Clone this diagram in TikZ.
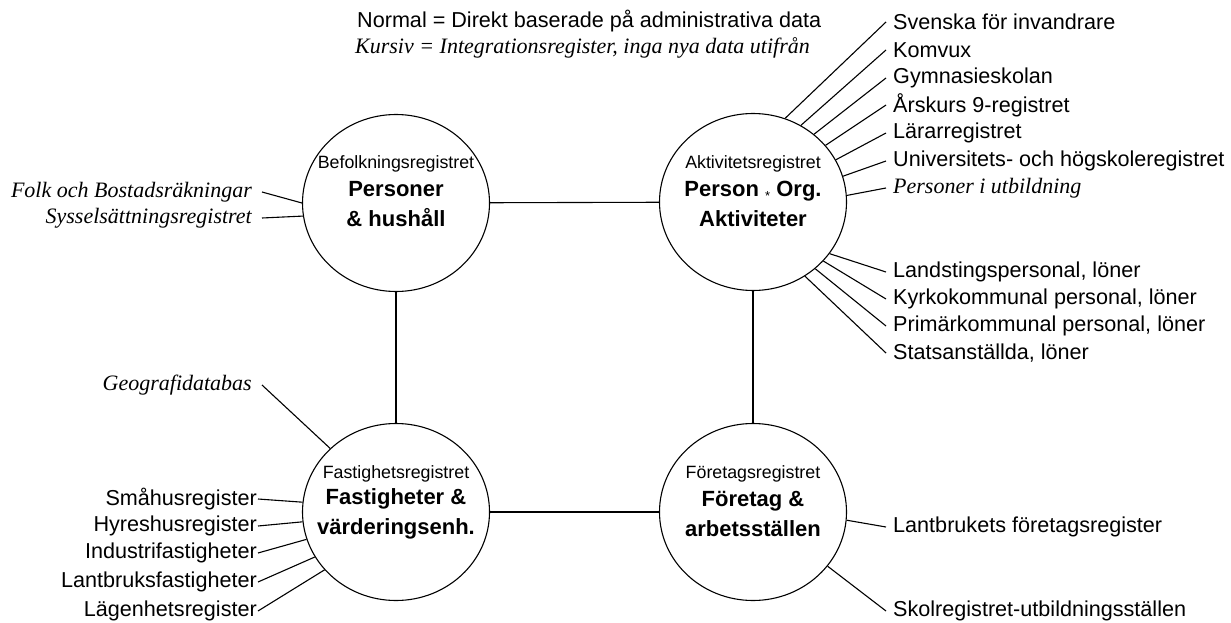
\documentclass[tikz,border=0pt]{standalone}
\usepackage{fontspec}
\setmainfont{Liberation Sans}
\newfontfamily\timesfont{Liberation Serif}
\usetikzlibrary{shapes.geometric,calc}

\tikzset{
  reg/.style={ellipse, draw, line width=1.1pt, minimum width=187pt, minimum height=177pt, inner sep=0pt},
  regname/.style={font=\fontsize{17.8}{20}\selectfont, inner sep=0pt},
  regmain/.style={font=\fontsize{22}{30}\selectfont\bfseries, align=center, inner sep=0pt},
  lab/.style={font=\fontsize{21.6}{24}\selectfont, inner xsep=7pt, inner ysep=0pt},
  labit/.style={font=\fontsize{22}{24}\selectfont\timesfont\itshape, inner xsep=10pt, inner ysep=0pt},
  labl/.style={lab, inner xsep=1pt},
  link/.style={line width=1.1pt},
}

\begin{document}
\begin{tikzpicture}[x=1pt,y=-1pt]
\useasboundingbox (0,0) rectangle (1231,623);

% legend
\node[lab, anchor=west, inner xsep=0pt] (normal) at (357,21) {Normal = Direkt baserade på administrativa data};
\node[labit, anchor=west, inner xsep=0pt] (kursiv) at (355,48) {Kursiv = Integrationsregister, inga nya data utifrån};

% the four base registers
\node[reg] (pers) at (396,203) {};
\node[reg] (akt) at (753,202) {};
\node[reg] (fast) at (396,512) {};
\node[reg] (foret) at (753,512) {};

\node[regname] (persA) at ($(pers)+(0,-39)$) {Befolkningsregistret};
\node[regmain] (persB) at ($(pers)+(0,1.5)$) {Personer\\\& hushåll};

\node[regname] (aktA) at ($(akt)+(0,-38.5)$) {Aktivitetsregistret};
\node[regmain] (aktB) at ($(akt)+(0,2)$) {Person {\fontsize{13}{13}\selectfont\mdseries\raisebox{-4pt}{*}} Org.\\Aktiviteter};

\node[regname] (fastA) at ($(fast)+(0,-38.5)$) {Fastighetsregistret};
\node[regmain] (fastB) at ($(fast)+(0,2)$) {Fastigheter \&\\värderingsenh.};

\node[regname] (foretA) at ($(foret)+(0,-38.5)$) {Företagsregistret};
\node[regmain] (foretB) at ($(foret)+(0,2)$) {Företag \&\\arbetsställen};

% links between the base registers
\draw[link] (pers) -- (akt);
\draw[link] (pers) -- (fast);
\draw[link] (akt) -- (foret);
\draw[link] (fast) -- (foret);

% education and activity registers
\node[lab, anchor=west] (sfi) at (886,22) {Svenska för invandrare};
\node[lab, anchor=west] (komvux) at (886,50) {Komvux};
\node[lab, anchor=west] (gymn) at (886,78) {Gymnasieskolan};
\node[lab, anchor=west] (ak9) at (886,105) {Årskurs 9-registret};
\node[lab, anchor=west] (larar) at (886,133) {Lärarregistret};
\node[lab, anchor=west] (univ) at (886,161) {Universitets- och högskoleregistret};
\node[labit, anchor=west, inner xsep=7pt] (putb) at (886,188) {Personer i utbildning};

\draw[link] (akt.69) -- (sfi.west);
\draw[link] (akt.58) -- (komvux.west);
\draw[link] (akt.48) -- (gymn.west);
\draw[link] (akt.38) -- (ak9.west);
\draw[link] (akt.27.5) -- (larar.west);
\draw[link] (akt.16) -- (univ.west);
\draw[link] (akt.4) -- (putb.west);

% personnel and wage registers
\node[lab, anchor=west] (landst) at (886,272) {Landstingspersonal, löner};
\node[lab, anchor=west] (kyrko) at (886,299) {Kyrkokommunal personal, löner};
\node[lab, anchor=west] (primar) at (886,326) {Primärkommunal personal, löner};
\node[lab, anchor=west] (stat) at (886,353) {Statsanställda, löner};

\draw[link] (akt.-34) -- (landst.west);
\draw[link] (akt.-40) -- (kyrko.west);
\draw[link] (akt.-47) -- (primar.west);
\draw[link] (akt.-55) -- (stat.west);

% population registers
\node[labit, anchor=east] (fob) at (262,192) {Folk och Bostadsräkningar};
\node[labit, anchor=east] (syss) at (262,218) {Sysselsättningsregistret};
\draw[link] (fob.east) -- (pers.180);
\draw[link] (syss.east) -- (pers.188);

% real estate registers
\node[labit, anchor=east] (geo) at (262,385) {Geografidatabas};
\draw[link] (geo.east) -- (fast.136);

\node[labl, anchor=east] (smahus) at (258,499) {Småhusregister};
\node[labl, anchor=east] (hyres) at (258,526) {Hyreshusregister};
\node[labl, anchor=east] (indu) at (258,553) {Industrifastigheter};
\node[labl, anchor=east] (lantf) at (258,582) {Lantbruksfastigheter};
\node[labl, anchor=east] (lgh) at (258,611) {Lägenhetsregister};

\draw[link] (smahus.east) -- (fast.174);
\draw[link] (hyres.east) -- (fast.186);
\draw[link] (indu.east) -- (fast.197);
\draw[link] (lantf.east) -- (fast.209);
\draw[link] (lgh.east) -- (fast.219);

% business registers
\node[lab, anchor=west] (lantb) at (886,527) {Lantbrukets företagsregister};
\node[lab, anchor=west] (skol) at (886,611) {Skolregistret-utbildningsställen};
\draw[link] (foret.-5) -- (lantb.west);
\draw[link] (foret.-36) -- (skol.west);
\end{tikzpicture}
\end{document}
